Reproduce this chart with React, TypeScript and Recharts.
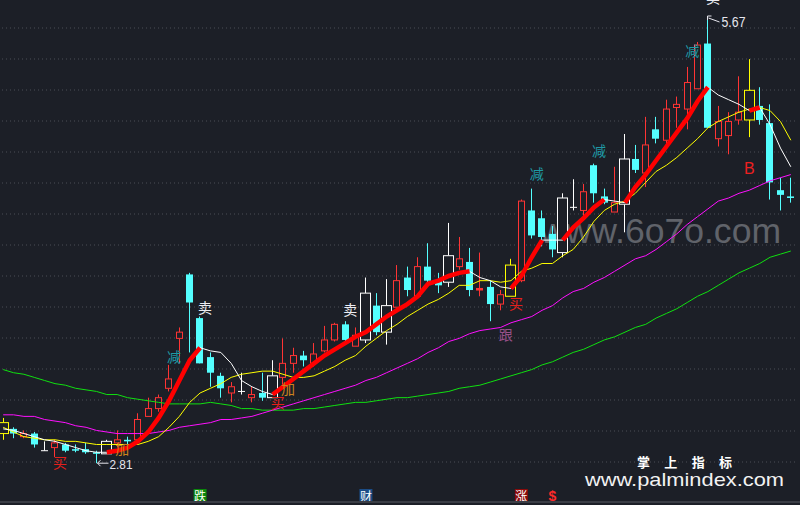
import React from 'react';
import { ComposedChart, Bar, Line, XAxis, YAxis, CartesianGrid, ReferenceDot } from 'recharts';

// daily candles, oldest first
const open = [
  3.00, 3.03, 2.98, 3.00, 2.89, 2.91, 2.93, 2.90, 2.90, 2.88,
  2.87, 2.94, 2.96, 2.96, 3.11, 3.16, 3.29, 3.61, 4.02, 3.74,
  3.49, 3.37, 3.26, 3.27, 3.23, 3.26, 3.23, 3.36, 3.45, 3.50,
  3.45, 3.53, 3.60, 3.70, 3.56, 3.60, 3.82, 3.65, 3.81, 4.00,
  3.88, 4.07, 3.98, 3.97, 4.07, 4.10, 3.92, 3.94, 3.83, 3.88,
  3.98, 4.43, 4.38, 4.28, 4.16, 4.45, 4.43, 4.72, 4.52, 4.42,
  4.47, 4.76, 4.67, 4.95, 4.88, 5.09, 5.08, 5.21, 5.50, 4.89,
  4.91, 5.01, 5.01, 5.10, 4.99, 4.56, 4.52,
];
const high = [
  3.10, 3.04, 3.02, 3.01, 2.95, 2.96, 2.94, 2.93, 2.94, 2.89,
  2.96, 3.02, 2.98, 3.13, 3.23, 3.25, 3.44, 3.68, 4.03, 3.75,
  3.52, 3.39, 3.33, 3.39, 3.30, 3.39, 3.47, 3.61, 3.55, 3.53,
  3.58, 3.69, 3.71, 3.72, 3.68, 4.00, 3.90, 3.99, 4.08, 4.07,
  4.13, 4.22, 4.03, 4.35, 4.26, 4.19, 4.16, 3.98, 3.92, 4.12,
  4.50, 4.57, 4.43, 4.33, 4.54, 4.63, 4.60, 4.73, 4.57, 4.71,
  4.92, 4.85, 5.03, 5.03, 5.14, 5.16, 5.35, 5.51, 5.67, 5.10,
  5.06, 5.29, 5.40, 5.22, 5.11, 4.64, 4.64,
];
const low = [
  2.96, 2.97, 2.97, 2.91, 2.89, 2.85, 2.88, 2.88, 2.87, 2.81,
  2.87, 2.91, 2.93, 2.96, 3.11, 3.14, 3.27, 3.45, 3.52, 3.45,
  3.30, 3.23, 3.20, 3.25, 3.20, 3.21, 3.23, 3.30, 3.39, 3.43,
  3.43, 3.52, 3.59, 3.59, 3.56, 3.58, 3.63, 3.57, 3.81, 3.88,
  3.88, 3.97, 3.90, 3.94, 4.05, 3.88, 3.88, 3.72, 3.79, 3.88,
  3.97, 4.25, 4.20, 4.13, 4.13, 4.43, 4.37, 4.48, 4.47, 4.42,
  4.29, 4.67, 4.58, 4.86, 4.84, 4.96, 4.95, 5.21, 4.96, 4.84,
  4.79, 4.98, 4.90, 4.98, 4.50, 4.43, 4.48,
];
const close = [
  3.07, 3.00, 3.00, 2.93, 2.89, 2.94, 2.89, 2.89, 2.88, 2.87,
  2.95, 2.96, 2.95, 3.09, 3.16, 3.23, 3.35, 3.65, 3.84, 3.45,
  3.39, 3.29, 3.30, 3.27, 3.25, 3.23, 3.37, 3.45, 3.50, 3.47,
  3.51, 3.60, 3.70, 3.60, 3.63, 3.90, 3.65, 3.82, 3.98, 3.92,
  4.07, 3.98, 3.95, 4.14, 4.12, 3.92, 3.93, 3.83, 3.89, 4.08,
  4.49, 4.27, 4.26, 4.18, 4.51, 4.45, 4.55, 4.54, 4.48, 4.48,
  4.76, 4.69, 4.85, 4.89, 5.08, 5.11, 5.25, 5.49, 4.96, 5.00,
  5.00, 5.06, 5.20, 5.01, 4.61, 4.53, 4.51,
];

// candles the indicator paints as wide boxes
const whiteBoxes = [10, 26, 35, 37, 43, 54, 60];
const yellowBoxes = [0, 49, 72];

// moving averages
const maWhite = [
  3.03, 3.02, 3.00, 2.98, 2.96, 2.95, 2.93, 2.91, 2.89, 2.88,
  2.88, 2.89, 2.91, 2.95, 3.01, 3.10, 3.21, 3.34, 3.47, 3.55,
  3.53, 3.52, 3.45, 3.34, 3.30, 3.27, 3.25, 3.30, 3.35, 3.40,
  3.45, 3.50, 3.54, 3.58, 3.62, 3.65, 3.70, 3.75, 3.79, 3.83,
  3.88, 3.96, 3.98, 4.01, 4.03, 4.04, 4.00, 3.98, 3.94, 3.93,
  4.01, 4.13, 4.24, 4.24, 4.24, 4.32, 4.38, 4.45, 4.50, 4.49,
  4.48, 4.58, 4.66, 4.75, 4.84, 4.93, 5.02, 5.13, 5.22, 5.17,
  5.14, 5.11, 5.07, 5.09, 4.98, 4.83, 4.71,
];
const maYellow = [
  3.04, 3.01, 2.98, 2.97, 2.96, 2.96, 2.95, 2.95, 2.94, 2.93,
  2.93, 2.93, 2.93, 2.93, 2.95, 2.98, 3.04, 3.11, 3.20, 3.26,
  3.29, 3.32, 3.36, 3.38, 3.39, 3.40, 3.40, 3.38, 3.36, 3.36,
  3.37, 3.40, 3.43, 3.47, 3.50, 3.56, 3.61, 3.66, 3.70, 3.75,
  3.79, 3.83, 3.86, 3.90, 3.95, 3.95, 3.98, 3.98, 3.97, 3.98,
  4.04, 4.06, 4.09, 4.09, 4.14, 4.18, 4.26, 4.36, 4.43, 4.47,
  4.49, 4.54, 4.61, 4.68, 4.72, 4.77, 4.83, 4.89, 4.96, 5.00,
  5.03, 5.06, 5.08, 5.09, 5.07, 5.00, 4.88,
];
const maMagenta = [
  3.12, 3.12, 3.11, 3.11, 3.09, 3.08, 3.07, 3.05, 3.04, 3.02,
  3.01, 3.00, 3.00, 3.00, 3.00, 3.01, 3.02, 3.04, 3.05, 3.06,
  3.07, 3.09, 3.09, 3.10, 3.11, 3.13, 3.15, 3.17, 3.19, 3.21,
  3.23, 3.25, 3.27, 3.29, 3.31, 3.34, 3.36, 3.39, 3.42, 3.45,
  3.48, 3.52, 3.55, 3.59, 3.61, 3.64, 3.66, 3.67, 3.68, 3.71,
  3.73, 3.75, 3.79, 3.82, 3.87, 3.91, 3.93, 3.97, 4.00, 4.04,
  4.08, 4.12, 4.14, 4.18, 4.23, 4.28, 4.34, 4.39, 4.44, 4.49,
  4.51, 4.54, 4.56, 4.59, 4.62, 4.64, 4.66,
];
const maGreen = [
  3.41, 3.39, 3.38, 3.36, 3.34, 3.32, 3.31, 3.29, 3.28, 3.27,
  3.25, 3.25, 3.23, 3.22, 3.21, 3.20, 3.19, 3.19, 3.19, 3.19,
  3.20, 3.19, 3.18, 3.16, 3.16, 3.15, 3.15, 3.15, 3.15, 3.16,
  3.16, 3.17, 3.18, 3.19, 3.20, 3.20, 3.21, 3.22, 3.23, 3.23,
  3.24, 3.25, 3.26, 3.27, 3.29, 3.30, 3.31, 3.33, 3.35, 3.37,
  3.39, 3.41, 3.44, 3.46, 3.49, 3.52, 3.54, 3.57, 3.60, 3.62,
  3.65, 3.68, 3.70, 3.74, 3.77, 3.80, 3.84, 3.88, 3.91, 3.95,
  3.99, 4.03, 4.06, 4.09, 4.13, 4.15, 4.17,
];

// text signals: candle index, price where the glyph sits
const signals = [
  { i: 19, p: 3.81, t: '卖', c: '#ececf2' },
  { i: 33, p: 3.80, t: '卖', c: '#ececf2' },
  { i: 68, p: 5.80, t: '卖', c: '#ececf2' },
  { i: 16, p: 3.50, t: '减', c: '#1f9aa6' },
  { i: 51, p: 4.67, t: '减', c: '#1f9aa6' },
  { i: 57, p: 4.82, t: '减', c: '#1f9aa6' },
  { i: 66, p: 5.46, t: '减', c: '#1f9aa6' },
  { i: 5, p: 2.82, t: '买', c: '#e4201c' },
  { i: 26, p: 3.20, t: '买', c: '#e4201c' },
  { i: 49, p: 3.84, t: '买', c: '#e4201c' },
  { i: 11, p: 2.905, t: '加', c: '#cc821e' },
  { i: 27, p: 3.29, t: '加', c: '#cc821e' },
  { i: 48, p: 3.64, t: '跟', c: '#98508a' },
];
const bSignals = [{ i: 72, p: 4.70, t: 'B' }];

// extreme price marks
const peak = { i: 68, p: 5.67 };
const trough = { i: 9, p: 2.81 };

// markers on the bottom strip
const bottomMarks = [
  { i: 19, t: '跌', bg: '#0b870b', c: '#ffffff' },
  { i: 35, t: '财', bg: '#1b4c86', c: '#ffffff' },
  { i: 50, t: '涨', bg: '#8a0b0b', c: '#ffffff' },
  { i: 53, t: '$', bg: '', c: '#ff2a2a' },
];

const PRICE_MIN = 2.542;
const PRICE_MAX = 5.779;
const BG = '#1c1f27';
const gridRows = Array.from({ length: 15 }, (_, k) => 28 + 31 * k);

const data = open.map((o, i) => {
  const up = (j: number) => j > 0 && j < maWhite.length && maWhite[j] > maWhite[j - 1];
  return {
    idx: i,
    open: o,
    high: high[i],
    low: low[i],
    close: close[i],
    hl: [low[i], high[i]],
    box: whiteBoxes.includes(i) ? '#ffffff' : yellowBoxes.includes(i) ? '#ffff00' : '',
    maWhite: maWhite[i],
    maYellow: maYellow[i],
    maMagenta: maMagenta[i],
    maGreen: maGreen[i],
    rise: up(i) || up(i + 1) ? maWhite[i] : null,
  };
});

const Candle = (props: any) => {
  const { x, y, width, height, payload } = props;
  const { open: o, close: c, high: h, low: l, box } = payload;
  const top0 = Math.min(y, y + height);
  const hgt = Math.abs(height);
  const k = h === l ? 0 : hgt / (h - l);
  const py = (v: number) => top0 + (h - v) * k;
  const cx = Math.floor(x + width / 2) + 0.5;
  const yO = py(o);
  const yC = py(c);
  const yH = top0;
  const yL = top0 + hgt;
  const bt = Math.min(yO, yC);
  const bb = Math.max(yO, yC);

  if (box) {
    return (
      <g stroke={box} strokeWidth={1}>
        <line x1={cx} y1={yH} x2={cx} y2={bt} />
        <line x1={cx} y1={bb} x2={cx} y2={yL} />
        <rect x={cx - 5} y={bt} width={10} height={Math.max(bb - bt, 1)} fill={BG} />
      </g>
    );
  }
  if (c > o) {
    const col = '#ff3434';
    if (bb - bt < 2.5) {
      return (
        <g>
          <line x1={cx} y1={yH} x2={cx} y2={yL} stroke={col} />
          <rect x={cx - 3.5} y={bt - 0.5} width={7} height={Math.max(bb - bt, 1) + 1} fill={col} />
        </g>
      );
    }
    return (
      <g stroke={col} strokeWidth={1}>
        <line x1={cx} y1={yH} x2={cx} y2={bt} />
        <line x1={cx} y1={bb} x2={cx} y2={yL} />
        <rect x={cx - 3} y={bt} width={6} height={bb - bt} fill={BG} />
      </g>
    );
  }
  if (c < o) {
    const col = '#54ffff';
    return (
      <g>
        <line x1={cx} y1={yH} x2={cx} y2={yL} stroke={col} />
        <rect x={cx - 3.5} y={bt} width={7} height={Math.max(bb - bt, 1.5)} fill={col} />
      </g>
    );
  }
  return (
    <g stroke="#ffffff" strokeWidth={1}>
      <line x1={cx} y1={yH} x2={cx} y2={yL} />
      <line x1={cx - 3.5} y1={yO} x2={cx + 3.5} y2={yO} />
    </g>
  );
};

const cjk = '"Noto Sans CJK SC", "Noto Sans", sans-serif';
const latin = '"Liberation Sans", Arial, sans-serif';

const App: React.FC = () => {
  return (
    <div
      style={{
        position: 'fixed',
        left: 0,
        top: 0,
        width: 800,
        height: 505,
        overflow: 'hidden',
        background: BG,
      }}
    >
      <svg width={800} height={505} style={{ position: 'absolute', left: 0, top: 0 }}>
        <text
          x={540}
          y={243}
          fontSize={35}
          fontFamily={latin}
          fill="#60636a"
          textLength={241}
          lengthAdjust="spacingAndGlyphs"
        >
          www.6o7o.com
        </text>
      </svg>
      <div style={{ position: 'absolute', left: -2, top: 0 }}>
        <ComposedChart
          width={800}
          height={505}
          data={data}
          margin={{ top: 0, right: 2, bottom: 0, left: 0 }}
        >
          <CartesianGrid
            horizontal
            vertical={false}
            horizontalPoints={gridRows}
            stroke="#4a4e57"
            strokeDasharray="1 3"
          />
          <XAxis dataKey="idx" type="category" hide />
          <YAxis type="number" domain={[PRICE_MIN, PRICE_MAX]} allowDataOverflow hide />
          <Bar dataKey="hl" barSize={8} shape={<Candle />} isAnimationActive={false} />
          <Line dataKey="maGreen" stroke="#10e010" strokeWidth={1} dot={false} activeDot={false} isAnimationActive={false} />
          <Line dataKey="maMagenta" stroke="#ff10ff" strokeWidth={1} dot={false} activeDot={false} isAnimationActive={false} />
          <Line dataKey="maYellow" stroke="#ffff00" strokeWidth={1} dot={false} activeDot={false} isAnimationActive={false} />
          <Line dataKey="maWhite" stroke="#ffffff" strokeWidth={1} dot={false} activeDot={false} isAnimationActive={false} />
          <Line dataKey="rise" stroke="#ff0000" strokeWidth={4.5} dot={false} activeDot={false} connectNulls={false} isAnimationActive={false} />

          {signals.map((s, n) => (
            <ReferenceDot
              key={`s${n}`}
              x={s.i}
              y={s.p}
              r={0}
              ifOverflow="visible"
              shape={(p: any) => (
                <text
                  x={p.cx - 2}
                  y={p.cy}
                  fill={s.c}
                  fontSize={14}
                  fontFamily={cjk}
                  dominantBaseline="central"
                >
                  {s.t}
                </text>
              )}
            />
          ))}
          {bSignals.map((s, n) => (
            <ReferenceDot
              key={`b${n}`}
              x={s.i}
              y={s.p}
              r={0}
              ifOverflow="visible"
              shape={(p: any) => (
                <text
                  x={p.cx}
                  y={p.cy}
                  fill="#ee2020"
                  fontSize={16}
                  fontFamily={latin}
                  textAnchor="middle"
                  dominantBaseline="central"
                >
                  {s.t}
                </text>
              )}
            />
          ))}
          <ReferenceDot
            x={peak.i}
            y={peak.p}
            r={0}
            ifOverflow="visible"
            shape={(p: any) => {
              const cx = Math.floor(p.cx) + 0.5;
              return (
                <g>
                  <path d={`M${cx} ${p.cy + 3} L${cx} ${p.cy - 1} L${cx + 4} ${p.cy - 1}`} stroke="#e6e6ee" fill="none" />
                  <path d={`M${cx + 1} ${p.cy + 1} L${cx + 12} ${p.cy + 5}`} stroke="#e6e6ee" fill="none" />
                  <text
                    x={cx + 14}
                    y={p.cy + 5}
                    fill="#e6e6ee"
                    fontSize={14}
                    fontFamily={latin}
                    dominantBaseline="central"
                    textLength={24}
                    lengthAdjust="spacingAndGlyphs"
                  >
                    {peak.p.toFixed(2)}
                  </text>
                </g>
              );
            }}
          />
          <ReferenceDot
            x={trough.i}
            y={trough.p}
            r={0}
            ifOverflow="visible"
            shape={(p: any) => {
              const cx = Math.floor(p.cx) + 0.5;
              return (
                <g>
                  <path
                    d={`M${cx + 1} ${p.cy} L${cx + 12} ${p.cy} M${cx + 1} ${p.cy} L${cx + 4} ${p.cy - 3} M${cx + 1} ${p.cy} L${cx + 4} ${p.cy + 3}`}
                    stroke="#e6e6ee"
                    fill="none"
                  />
                  <text
                    x={cx + 13}
                    y={p.cy + 1}
                    fill="#e6e6ee"
                    fontSize={13}
                    fontFamily={latin}
                    dominantBaseline="central"
                    textLength={23}
                    lengthAdjust="spacingAndGlyphs"
                  >
                    {trough.p.toFixed(2)}
                  </text>
                </g>
              );
            }}
          />
          {bottomMarks.map((m, n) => (
            <ReferenceDot
              key={`m${n}`}
              x={m.i}
              y={PRICE_MIN}
              r={0}
              ifOverflow="visible"
              shape={(p: any) => (
                <g>
                  {m.bg && <rect x={p.cx - 6.5} y={p.cy - 16} width={13} height={13} fill={m.bg} />}
                  <text
                    x={p.cx}
                    y={p.cy - 9.5}
                    fill={m.c}
                    fontSize={m.bg ? 12 : 14}
                    fontWeight={m.bg ? 400 : 700}
                    fontFamily={m.bg ? cjk : latin}
                    textAnchor="middle"
                    dominantBaseline="central"
                  >
                    {m.t}
                  </text>
                </g>
              )}
            />
          ))}
        </ComposedChart>
      </div>
      <svg
        width={800}
        height={505}
        style={{ position: 'absolute', left: 0, top: 0, pointerEvents: 'none' }}
      >
        <text
          x={637}
          y={461}
          fontSize={13}
          fontWeight={700}
          fontFamily={cjk}
          fill="#ffffff"
          dominantBaseline="central"
          textLength={95}
          lengthAdjust="spacing"
        >
          掌上指标
        </text>
        <text
          x={585}
          y={486}
          fontSize={19}
          fontFamily={latin}
          fill="#f2f2f2"
          textLength={199}
          lengthAdjust="spacingAndGlyphs"
        >
          www.palmindex.com
        </text>
        <rect x={0} y={501} width={800} height={2} fill="#3a3d45" />
      </svg>
    </div>
  );
};

export default App;
